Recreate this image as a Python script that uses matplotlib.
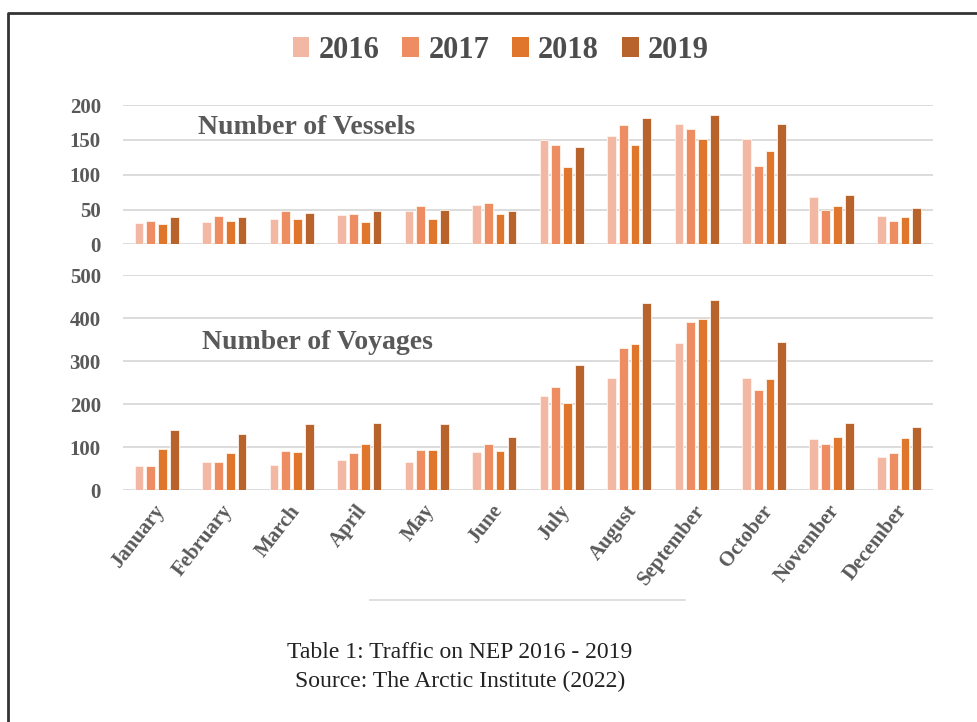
import matplotlib
matplotlib.use("Agg")
import matplotlib.pyplot as plt
import numpy as np
from matplotlib.patches import Patch
from matplotlib.lines import Line2D

# --- DATA: monthly traffic on the Northeast Passage ---
months = ["January", "February", "March", "April", "May", "June", "July",
          "August", "September", "October", "November", "December"]
years = ["2016", "2017", "2018", "2019"]

vessels_2016 = [31, 32, 36, 42, 48, 57, 150, 156, 173, 151, 68, 40]
vessels_2017 = [34, 40, 48, 43, 55, 59, 142, 171, 165, 112, 50, 34]
vessels_2018 = [29, 33, 37, 32, 37, 43, 111, 142, 151, 134, 55, 39]
vessels_2019 = [39, 39, 45, 48, 49, 48, 140, 182, 185, 173, 71, 52]

voyages_2016 = [56, 64, 59, 70, 65, 88, 219, 260, 341, 260, 119, 77]
voyages_2017 = [56, 65, 91, 87, 92, 107, 240, 330, 391, 232, 107, 87]
voyages_2018 = [95, 87, 89, 106, 92, 91, 203, 340, 398, 258, 124, 120]
voyages_2019 = [139, 130, 153, 157, 153, 124, 290, 436, 443, 344, 155, 147]

colors = ["#f3b8a3", "#ee8d62", "#e0762c", "#b8632b"]
TEXT_GRAY = "#595959"

plt.rcParams["font.family"] = ["Liberation Serif", "DejaVu Serif"]

fig = plt.figure(figsize=(9.78, 7.22), dpi=100)
ax_top = fig.add_axes([0.1258, 0.6616, 0.828, 0.1929])
ax_bot = fig.add_axes([0.1258, 0.3213, 0.828, 0.2978])

x = np.arange(len(months))
offsets = (np.arange(4) - 1.5) * 0.175
width = 0.13


def draw_panel(ax, series, ymax, step):
    for off, vals, c in zip(offsets, series, colors):
        ax.bar(x + off, vals, width, color=c, edgecolor="#fff4ec",
               linewidth=0.6, zorder=3)
    ax.set_xlim(-0.5, len(months) - 0.5)
    ax.set_ylim(0, ymax)
    ax.set_yticks(np.arange(0, ymax + 1, step))
    ax.grid(axis="y", color="#d9d9d9", linewidth=1.3, zorder=0)
    for s in ax.spines.values():
        s.set_visible(False)
    ax.tick_params(axis="y", length=0, pad=16, labelsize=15, labelcolor=TEXT_GRAY)
    for lbl in ax.get_yticklabels():
        lbl.set_fontweight("bold")


draw_panel(ax_top, [vessels_2016, vessels_2017, vessels_2018, vessels_2019], 200, 50)
draw_panel(ax_bot, [voyages_2016, voyages_2017, voyages_2018, voyages_2019], 500, 100)

ax_top.set_xticks([])
ax_bot.set_xticks(x - 0.05)
ax_bot.set_xticklabels(months, rotation=52, ha="right", rotation_mode="anchor",
                       fontsize=15, fontweight="bold", color=TEXT_GRAY)
ax_bot.tick_params(axis="x", length=0, pad=8)

ax_top.text(0.093, 0.84, "Number of Vessels", transform=ax_top.transAxes,
            fontsize=20, fontweight="bold", color=TEXT_GRAY, va="center", ha="left")
ax_bot.text(0.097, 0.684, "Number of Voyages", transform=ax_bot.transAxes,
            fontsize=20, fontweight="bold", color=TEXT_GRAY, va="center", ha="left")

handles = [Patch(facecolor=c, edgecolor="none") for c in colors]
fig.legend(handles, years, loc="center", bbox_to_anchor=(0.512, 1 - 50 / 722),
           ncol=4, frameon=False, handlelength=0.55, handleheight=0.65,
           handletextpad=0.3, columnspacing=0.75,
           prop={"family": "Liberation Serif", "weight": "bold", "size": 22},
           labelcolor="#4d4d4d")

# thin rule under the chart and the page frame
fig.add_artist(Line2D([370 / 978, 685 / 978], [1 - 600 / 722] * 2,
                      color="#d9d9d9", linewidth=1.2))
fig.add_artist(Line2D([8 / 978, 8 / 978, 1.0], [0.0, 1 - 13 / 722, 1 - 13 / 722],
                      color="#333333", linewidth=2))

fig.text(460 / 978, 1 - 653 / 722, "Table 1: Traffic on NEP 2016 - 2019",
         ha="center", va="center", fontsize=17, color="#222222")
fig.text(460 / 978, 1 - 681 / 722, "Source: The Arctic Institute (2022)",
         ha="center", va="center", fontsize=17, color="#222222")

fig.savefig("out.png", dpi=100)
